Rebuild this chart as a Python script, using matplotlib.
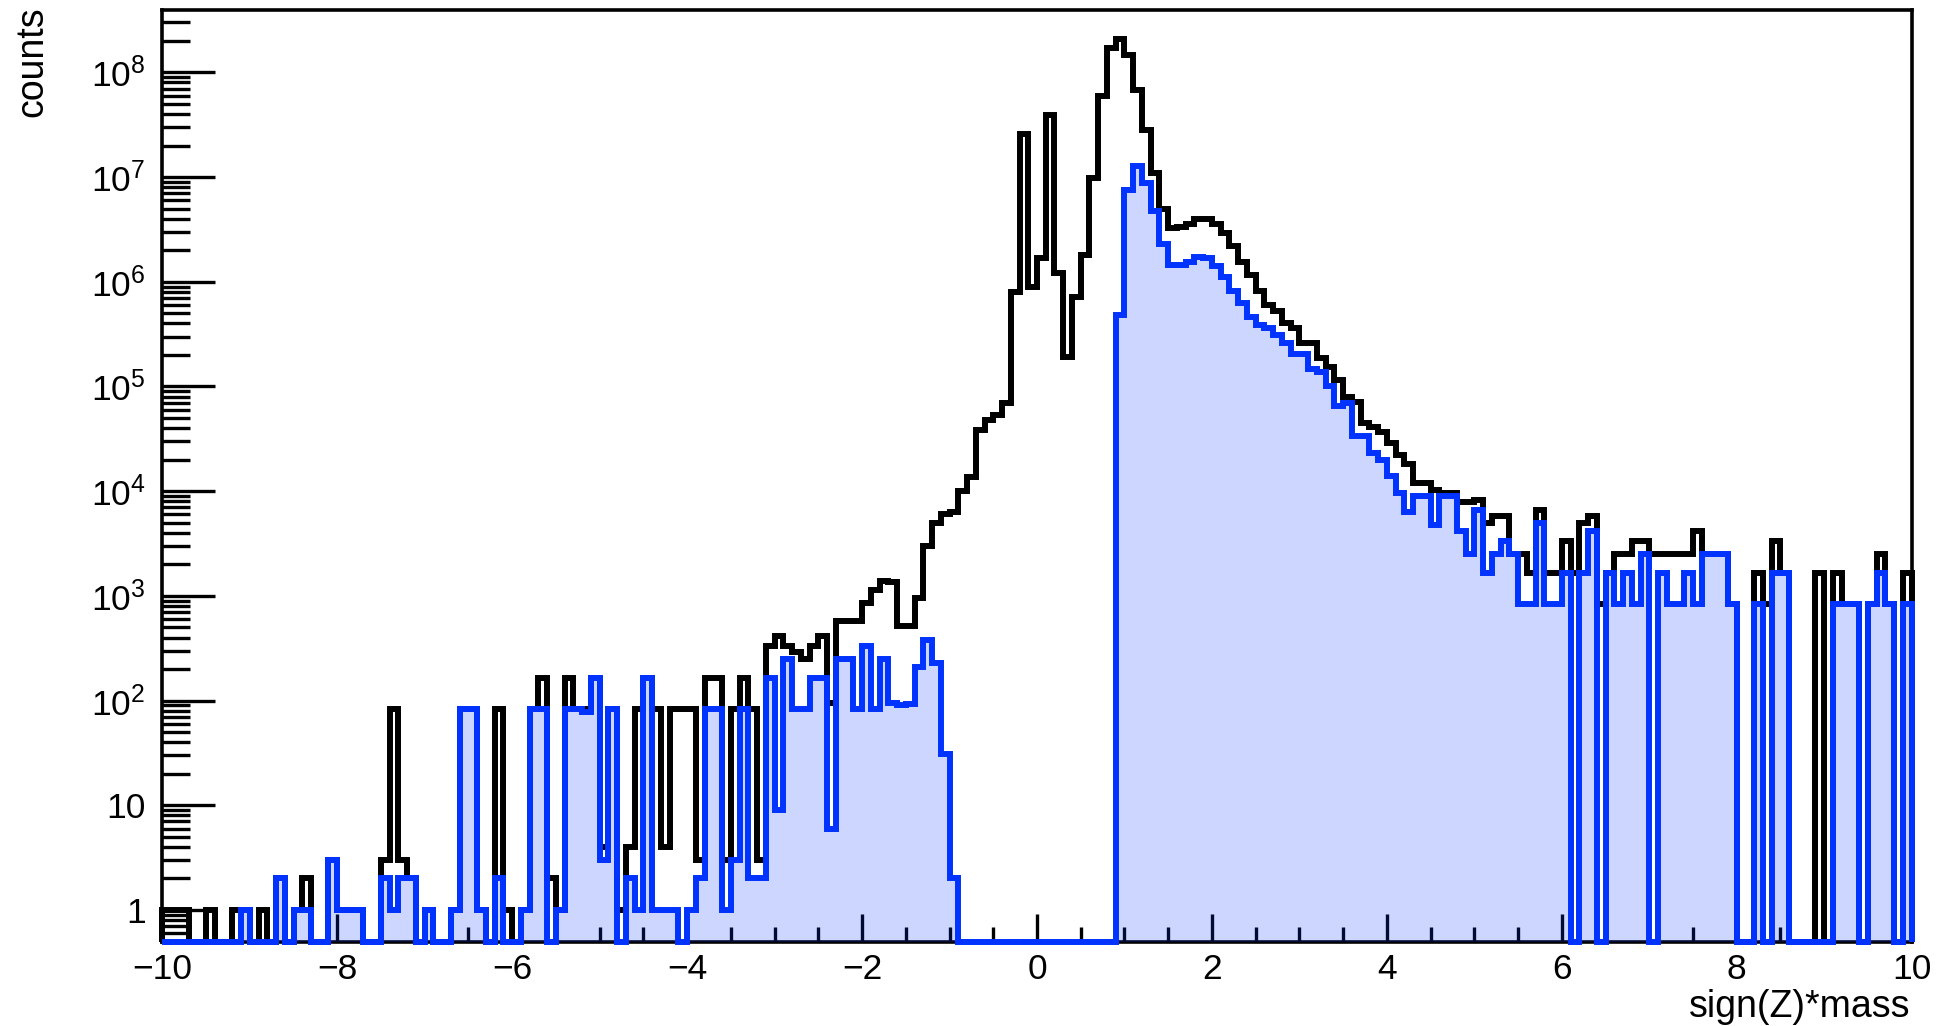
import numpy as np
import matplotlib
matplotlib.use("Agg")
import matplotlib.pyplot as plt
from matplotlib.ticker import FixedLocator, FixedFormatter, MultipleLocator, LogLocator, NullFormatter

plt.rcParams['font.family'] = ['Liberation Sans', 'DejaVu Sans']
plt.rcParams['mathtext.fontset'] = 'custom'
plt.rcParams['mathtext.rm'] = 'Liberation Sans'
plt.rcParams['mathtext.it'] = 'Liberation Sans:italic'
plt.rcParams['mathtext.bf'] = 'Liberation Sans:bold'

# Histogram binning
x_min, x_max, n_bins = -10.0, 10.0, 200
y_floor, y_ceiling = 0.5, 3.94e8

# All tracks (black outline), 0.1-wide bins from -10 to 10
black_counts = [
    1, 1, 1, 0, 0, 1, 0, 0, 1, 1,
    0, 1, 0, 2, 0, 1, 2, 0, 0, 3,
    1, 1, 1, 0, 0, 3, 84, 3, 2, 0,
    1, 0, 0, 1, 83, 83, 1, 0, 83, 1,
    0, 1, 83, 166, 2, 1, 166, 83, 83, 166,
    4, 83, 1, 4, 83, 166, 83, 4, 83, 83,
    83, 3, 166, 166, 3, 83, 166, 83, 3, 332,
    415, 332, 290, 249, 330, 415, 94, 581, 581, 581,
    850, 1130, 1400, 1360, 520, 520, 950, 3000, 5000, 6000,
    6300, 1.0e4, 1.38e4, 3.8e4, 4.8e4, 5.3e4, 6.9e4, 8.0e5, 2.6e7, 9.0e5,
    1.67e6, 3.9e7, 1.2e6, 1.9e5, 7.2e5, 1.8e6, 9.7e6, 5.9e7, 1.7e8, 2.1e8,
    1.47e8, 6.8e7, 2.8e7, 1.09e7, 5.0e6, 3.25e6, 3.3e6, 3.6e6, 3.98e6, 3.98e6,
    3.6e6, 2.9e6, 2.2e6, 1.55e6, 1.15e6, 8.2e5, 6.0e5, 5.2e5, 4.0e5, 3.6e5,
    2.6e5, 2.6e5, 1.86e5, 1.55e5, 1.15e5, 7.9e4, 7.1e4, 4.5e4, 4.1e4, 3.7e4,
    2.9e4, 2.2e4, 1.8e4, 1.2e4, 1.2e4, 1.02e4, 9.5e3, 9.5e3, 7.9e3, 7.9e3,
    8300, 4980, 5810, 5810, 2490, 2490, 1660, 6640, 1660, 1660,
    3320, 1660, 4980, 5810, 830, 1660, 2490, 2490, 3320, 3320,
    2490, 2490, 2490, 2490, 2490, 4150, 2490, 2490, 2490, 830,
    0, 0, 1660, 830, 3320, 1660, 0, 0, 0, 1660,
    0, 1660, 830, 830, 0, 830, 2490, 830, 0, 1660,
]

# Selected tracks (blue filled)
blue_counts = [
    0, 0, 0, 0, 0, 0, 0, 0, 0, 1,
    0, 0, 0, 2, 0, 1, 1, 0, 0, 3,
    1, 1, 1, 0, 0, 2, 1, 2, 2, 0,
    1, 0, 0, 1, 83, 83, 1, 0, 2, 0,
    0, 1, 83, 83, 0, 1, 83, 83, 78, 166,
    3, 83, 0, 2, 1, 166, 1, 1, 1, 0,
    1, 2, 83, 83, 1, 3, 83, 2, 2, 166,
    9, 249, 83, 83, 166, 166, 6, 249, 249, 83,
    332, 83, 249, 94, 90, 92, 210, 380, 227, 31,
    2, 0, 0, 0, 0, 0, 0, 0, 0, 0,
    0, 0, 0, 0, 0, 0, 0, 0, 0, 4.8e5,
    7.5e6, 1.28e7, 8.8e6, 4.7e6, 2.3e6, 1.44e6, 1.44e6, 1.55e6, 1.72e6, 1.7e6,
    1.4e6, 1.12e6, 8.2e5, 6.2e5, 4.6e5, 3.9e5, 3.6e5, 3.1e5, 2.6e5, 2.05e5,
    2.05e5, 1.48e5, 1.38e5, 1.0e5, 6.5e4, 6.9e4, 3.4e4, 3.4e4, 2.3e4, 2.0e4,
    1.4e4, 9.5e3, 6.3e3, 8.9e3, 8.9e3, 4.8e3, 8.9e3, 8.9e3, 4150, 2490,
    6640, 1660, 2490, 3320, 2490, 830, 830, 4980, 830, 830,
    1660, 0, 1660, 4150, 0, 1660, 830, 1660, 830, 2490,
    0, 1660, 830, 830, 1660, 830, 2490, 2490, 2490, 830,
    0, 0, 830, 0, 1660, 1660, 0, 0, 0, 0,
    0, 830, 830, 830, 0, 830, 1660, 830, 0, 830,
]

x_major = [-10, -8, -6, -4, -2, 0, 2, 4, 6, 8, 10]
x_tick_labels = ['\u221210', '\u22128', '\u22126', '\u22124', '\u22122', '0',
                 '2', '4', '6', '8', '10']
y_major = [1, 10, 1e2, 1e3, 1e4, 1e5, 1e6, 1e7, 1e8]
y_tick_labels = ['1', '10', r'$10^{2}$', r'$10^{3}$', r'$10^{4}$', r'$10^{5}$',
                 r'$10^{6}$', r'$10^{7}$', r'$10^{8}$']

x_title = 'sign(Z)*mass'
y_title = 'counts'

W, H = 1944, 1026
fig = plt.figure(figsize=(W / 100, H / 100), dpi=100)
fig.patch.set_facecolor('white')
ax_left, ax_right, ax_top, ax_bottom = 162.3, 1911.7, 10.0, 941.5
ax = fig.add_axes([ax_left / W, 1 - ax_bottom / H,
                   (ax_right - ax_left) / W, (ax_bottom - ax_top) / H])
ax.set_yscale('log')
ax.set_xlim(x_min, x_max)
ax.set_ylim(y_floor, y_ceiling)

edges = np.linspace(x_min, x_max, n_bins + 1)


def at_floor(counts):
    c = np.asarray(counts, dtype=float)
    return np.where(c > 0, c, y_floor)


black_draw = at_floor(black_counts)
blue_draw = at_floor(blue_counts)

line_w = 4.3
blk = ax.stairs(black_draw, edges, baseline=y_floor, color='black',
                linewidth=line_w, zorder=3)
fill = ax.stairs(blue_draw, edges, baseline=y_floor, fill=True,
                 color=(0.0, 0.2, 1.0, 0.2), linewidth=0, zorder=4)
blu = ax.stairs(blue_draw, edges, baseline=y_floor, color='#0033ff',
                linewidth=line_w, zorder=5)
for artist in (blk, blu):
    artist.set_clip_on(False)
    artist.set_joinstyle('miter')

# Frame and ticks
for sp in ax.spines.values():
    sp.set_linewidth(2.6)
    sp.set_zorder(2.5)

ax.xaxis.set_major_locator(FixedLocator(x_major))
ax.xaxis.set_major_formatter(FixedFormatter(x_tick_labels))
ax.xaxis.set_minor_locator(MultipleLocator(0.5))
ax.yaxis.set_major_locator(FixedLocator(y_major))
ax.yaxis.set_major_formatter(FixedFormatter(y_tick_labels))
ax.yaxis.set_minor_locator(LogLocator(base=10, subs=np.arange(2, 10), numticks=40))
ax.yaxis.set_minor_formatter(NullFormatter())

ax.tick_params(axis='both', which='both', direction='in', width=2.4,
               color='black', top=False, right=False)
ax.tick_params(axis='x', which='major', length=20, pad=8, labelsize=25.5)
ax.tick_params(axis='x', which='minor', length=11)
ax.tick_params(axis='y', which='major', length=38, pad=12, labelsize=25.5)
ax.tick_params(axis='y', which='minor', length=20)

fig.text(1910 / W, 1 - 1007 / H, x_title, ha='right', va='center', fontsize=27)
fig.text(32 / W, 1 - 6 / H, y_title, ha='center', va='top', rotation=90,
         fontsize=27)

fig.savefig('out.png', dpi=100, facecolor='white')
